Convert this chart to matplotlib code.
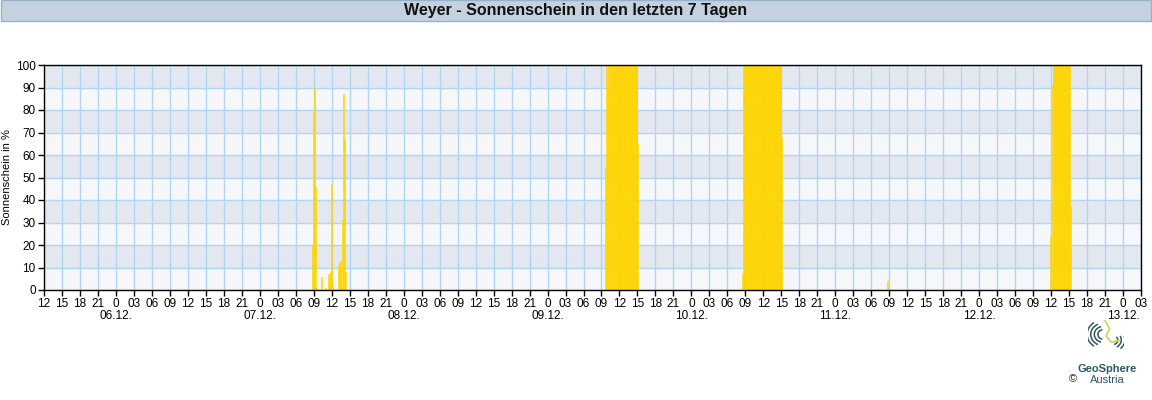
import numpy as np
import matplotlib
matplotlib.use("Agg")
import matplotlib.pyplot as plt
import matplotlib.dates as mdates
from matplotlib.patches import Rectangle, Arc

plt.rcParams["font.family"] = ["Liberation Sans", "DejaVu Sans"]

# ---- data: 10-minute sunshine share in %, per sunny stretch ----
T_START, T_END = "2024-12-05T12:00", "2024-12-13T03:00"

sun_0712_start = "2024-12-07T08:40"
sun_0712 = [20, 79, 90, 46, 1, 0, 0, 0, 0, 6, 0, 0, 0, 1, 0, 0, 7, 6, 8, 47, 2,
            0, 0, 0, 0, 0, 11, 12, 13, 2, 31, 87, 67, 8]

sun_0912_start = "2024-12-09T09:40"
sun_0912 = [54, 100, 90] + [100] * 29 + [65]

sun_1012_start = "2024-12-10T08:30"
sun_1012 = [7] + [100] * 38 + [68]

sun_1112_start = "2024-12-11T08:40"
sun_1112 = [4]

sun_1212_start = "2024-12-12T11:50"
sun_1212 = [24, 3, 91] + [100] * 17 + [37]

segments = [(sun_0712_start, sun_0712), (sun_0912_start, sun_0912),
            (sun_1012_start, sun_1012), (sun_1112_start, sun_1112),
            (sun_1212_start, sun_1212)]

TITLE = "Weyer - Sonnenschein in den letzten 7 Tagen"
YLABEL = "Sonnenschein in %"
DATE_LABELS = ["06.12.", "07.12.", "08.12.", "09.12.", "10.12.", "11.12.", "12.12.", "13.12."]
DATE_POS = ["2024-12-06", "2024-12-07", "2024-12-08", "2024-12-09",
            "2024-12-10", "2024-12-11", "2024-12-12", "2024-12-13"]

# ---- figure ----
fig = plt.figure(figsize=(11.52, 4.0), dpi=100)
W, H = 1152, 400

# title bar
fig.add_artist(Rectangle((0.5 / W, 1 - 21 / H), 1 - 1.5 / W, 20.5 / H, transform=fig.transFigure,
                         facecolor="#c4d2e0", edgecolor="#98b0c8", lw=1))
fig.text(0.5, 1 - 11 / H, TITLE, ha="center", va="center", fontsize=11.5, fontweight="bold", color="#111111")

ax = fig.add_axes([44 / W, 1 - 290 / H, (1141 - 44) / W, 225 / H])

# alternating horizontal bands
for k in range(10):
    ax.axhspan(k * 10, k * 10 + 10, color="#e3e8f0" if k % 2 else "#f5f7fa", zorder=0.1, lw=0)

step = np.timedelta64(10, "m")
for start, vals in segments:
    t = np.datetime64(start) + np.arange(len(vals)) * step
    ax.bar(t.astype("datetime64[m]").astype(object), vals, width=1 / 144, align="edge",
           color="#ffd500", edgecolor="#ffd500", lw=0.4, zorder=2)

ax.set_xlim(np.datetime64(T_START).astype(object), np.datetime64(T_END).astype(object))
ax.set_ylim(0, 100)
ax.set_yticks(range(0, 101, 10))
ax.xaxis.set_major_locator(mdates.HourLocator(byhour=range(0, 24, 3)))


def _fmt(x, pos=None):
    h = mdates.num2date(x).hour
    return "0" if h == 0 else f"{h:02d}"


ax.xaxis.set_major_formatter(plt.FuncFormatter(_fmt))
ax.set_axisbelow(True)
ax.grid(color="#b2d6f0", lw=1, zorder=0.5)
ax.tick_params(axis="both", direction="out", length=4, width=1, color="black",
               labelsize=8.5, pad=2)
for s in ax.spines.values():
    s.set_color("black")
    s.set_linewidth(1)
ax.set_ylabel(YLABEL, fontsize=8, labelpad=3)

# day labels under midnight ticks
tr = ax.get_xaxis_transform()
for lab, pos in zip(DATE_LABELS, DATE_POS):
    ax.text(np.datetime64(pos).astype("datetime64[m]").astype(object), -25 / 225 * 1.0 - 0.005, lab,
            transform=tr, ha="center", va="center", fontsize=8.5, clip_on=False)

# ---- GeoSphere logo (approximation) ----
lax = fig.add_axes([1088 / W, 1 - 352 / H, 36 / W, 32 / H])
lax.set_xlim(-1, 1)
lax.set_ylim(-1, 1)
lax.axis("off")
teal = "#2e5866"
for r, a1, a2 in [(0.3, 100, 260), (0.5, 105, 255), (0.7, 115, 245), (0.9, 125, 235)]:
    lax.add_patch(Arc((-0.15, 0.1), 2 * r, 2 * r, theta1=a1, theta2=a2, color=teal, lw=1.1))
for r, a1, a2 in [(0.3, -70, 40), (0.5, -60, 30), (0.7, -50, 20)]:
    lax.add_patch(Arc((0.35, -0.25), 2 * r, 2 * r, theta1=a1, theta2=a2, color=teal, lw=1.1))
lax.plot([-0.05, 0.2, 0.0, 0.3, 0.75], [0.95, 0.45, 0.0, -0.4, -0.25], color="#c9d65a", lw=1.2)

fig.text(1107 / W, 1 - 369 / H, "GeoSphere", ha="center", va="center", fontsize=8,
         fontweight="bold", color=teal)
fig.text(1107 / W, 1 - 380 / H, "Austria", ha="center", va="center", fontsize=8, color=teal)
fig.text(1073 / W, 1 - 379 / H, "©", ha="center", va="center", fontsize=8, color="#222222")

fig.savefig("out.png", dpi=100)
